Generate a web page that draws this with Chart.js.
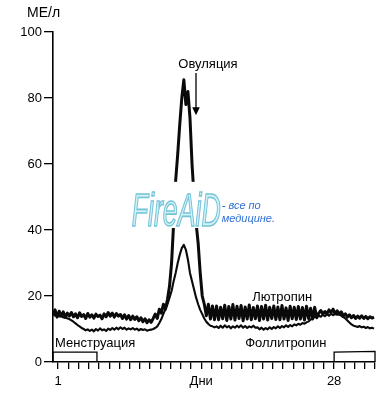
<!DOCTYPE html>
<html>
<head>
<meta charset="utf-8">
<script src="https://cdn.jsdelivr.net/npm/chart.js@4.4.0/dist/chart.umd.min.js"></script>
<style>
  html, body { margin: 0; padding: 0; background: #fff; }
</style>
</head>
<body>
<canvas id="hormoneChart" width="389" height="400"></canvas>
<script>
// дни цикла (шаг 0.2 дня)
const days = [
  0.5, 0.7, 0.9, 1.1, 1.3, 1.5, 1.7, 1.9, 2.1, 2.3,
  2.5, 2.7, 2.9, 3.1, 3.3, 3.5, 3.7, 3.9, 4.1, 4.3,
  4.5, 4.7, 4.9, 5.1, 5.3, 5.5, 5.7, 5.9, 6.1, 6.3,
  6.5, 6.7, 6.9, 7.1, 7.3, 7.5, 7.7, 7.9, 8.1, 8.3,
  8.5, 8.7, 8.9, 9.1, 9.3, 9.5, 9.7, 9.9, 10.1, 10.3,
  10.5, 10.7, 10.9, 11.1, 11.3, 11.5, 11.7, 11.9, 12.1, 12.3,
  12.5, 12.7, 12.9, 13.1, 13.3, 13.5, 13.7, 13.9, 14.1, 14.3,
  14.5, 14.7, 14.9, 15.1, 15.3, 15.5, 15.7, 15.9, 16.1, 16.3,
  16.5, 16.7, 16.9, 17.1, 17.3, 17.5, 17.7, 17.9, 18.1, 18.3,
  18.5, 18.7, 18.9, 19.1, 19.3, 19.5, 19.7, 19.9, 20.1, 20.3,
  20.5, 20.7, 20.9, 21.1, 21.3, 21.5, 21.7, 21.9, 22.1, 22.3,
  22.5, 22.7, 22.9, 23.1, 23.3, 23.5, 23.7, 23.9, 24.1, 24.3,
  24.5, 24.7, 24.9, 25.1, 25.3, 25.5, 25.7, 25.9, 26.1, 26.3,
  26.5, 26.7, 26.9, 27.1, 27.3, 27.5, 27.7, 27.9, 28.1, 28.3,
  28.5, 28.7, 28.9, 29.1, 29.3, 29.5, 29.7, 29.9, 30.1, 30.3,
  30.5, 30.7, 30.9, 31.1, 31.3, 31.5, 31.7, 31.9
];

// Лютропин, МЕ/л
const lhValues = [
  14.5, 15.8, 13.6, 15.4, 14.0, 15.2, 13.5, 14.8, 13.9, 15.0,
  13.7, 14.6, 13.4, 14.9, 13.8, 14.4, 13.2, 14.7, 13.6, 14.3,
  13.3, 14.5, 13.8, 14.2, 13.1, 14.6, 13.7, 15.0, 13.9, 14.8,
  13.6, 14.7, 13.9, 14.4, 13.2, 14.3, 13.0, 14.1, 12.8, 13.9,
  12.9, 13.7, 12.5, 13.4, 12.2, 13.1, 11.9, 12.8, 12.0, 13.2,
  14.5, 13.2, 16.0, 14.8, 17.5, 16.0, 19.0, 23.0, 30.0, 42.0,
  55.0, 63.0, 72.0, 80.0, 85.5, 78.0, 82.0, 74.0, 60.0, 50.0,
  42.0, 36.0, 27.0, 20.0, 17.5, 14.0, 17.5, 13.0, 17.0, 12.8,
  17.0, 12.8, 16.6, 13.1, 17.2, 12.6, 16.8, 13.0, 17.4, 12.7,
  16.9, 13.2, 17.1, 12.5, 16.7, 13.0, 17.3, 12.8, 16.5, 13.1,
  17.0, 12.6, 16.8, 13.0, 17.2, 12.7, 16.6, 13.2, 17.0, 12.9,
  16.7, 12.8, 17.1, 13.0, 16.4, 12.6, 16.9, 13.1, 16.6, 12.9,
  16.8, 13.0, 16.5, 12.7, 16.9, 13.2, 16.3, 13.0, 16.6, 13.4,
  14.8, 15.6, 14.5, 15.3, 14.6, 15.8, 15.0, 16.0, 14.6, 15.5,
  14.5, 15.2, 14.0, 14.6, 13.6, 14.3, 13.4, 14.1, 13.2, 13.9,
  13.3, 14.0, 13.2, 13.8, 13.1, 13.7, 13.3, 13.6
];

// Фоллитропин, МЕ/л
const fshValues = [
  14.6, 14.0, 14.3, 13.8, 13.9, 13.5, 13.6, 13.2, 13.0, 12.6,
  12.2, 11.7, 11.2, 10.8, 10.3, 10.0, 9.6, 9.9, 9.4, 9.8,
  9.3, 10.0, 9.5, 10.2, 9.6, 9.9, 9.4, 10.1, 9.7, 10.3,
  9.8, 10.4, 9.9, 10.5, 10.0, 10.4, 9.8, 10.2, 9.9, 10.3,
  9.8, 10.1, 9.6, 10.0, 9.7, 9.9, 9.5, 9.7, 9.8, 10.0,
  10.3, 10.8, 11.8, 13.0, 14.6, 16.0, 17.5, 19.5, 21.5, 24.5,
  27.0, 30.0, 32.5, 34.5, 35.5, 34.0, 31.0, 27.0, 24.5, 22.0,
  19.5, 17.5, 15.8, 14.5, 13.2, 12.2, 11.5, 11.0, 10.8, 10.5,
  10.8, 10.3, 11.0, 10.4, 11.1, 10.5, 10.9, 10.2, 10.8, 10.4,
  11.0, 10.5, 11.1, 10.4, 10.9, 10.3, 10.8, 10.5, 11.0, 10.4,
  10.5, 9.9, 10.4, 9.8, 10.3, 9.9, 10.5, 10.0, 10.6, 10.2,
  10.8, 10.3, 10.9, 10.5, 11.1, 10.6, 11.2, 10.8, 11.4, 11.1,
  11.6, 11.3, 11.8, 11.6, 12.0, 12.3, 12.9, 13.3, 13.6, 13.9,
  14.0, 13.7, 14.3, 13.9, 14.5, 14.0, 14.6, 14.2, 14.8, 14.3,
  14.5, 14.0, 13.6, 13.2, 12.6, 12.0, 11.4, 11.0, 10.8, 10.6,
  10.9, 10.5, 10.7, 10.3, 10.6, 10.2, 10.4, 10.1
];

// рамки менструаций (начало и конец цикла)
const mensBoxDays = [0.5, 0.5, 4.8, 4.8];
const mensBoxValues = [0, 3, 3, 0];
const nextBoxDays = [28, 28, 32, 32];
const nextBoxValues = [0, 3, 3.2, 0];

// оси
const dayTicks = [1, 2, 3, 4, 5, 6, 7, 8, 9, 10, 11, 12, 13, 14, 15, 16,
  17, 18, 19, 20, 21, 22, 23, 24, 25, 26, 27, 28, 29, 30, 31, 32];
const dayTickLabels = { 1: '1', 15: 'Дни', 28: '28' };
const valueTicks = [0, 20, 40, 60, 80, 100];

const FONT = '"Liberation Sans", Arial, sans-serif';

function toPoints(xs, ys) {
  return xs.map((x, i) => ({ x: x, y: ys[i] }));
}

const notesPlugin = {
  id: 'notes',
  afterDatasetsDraw(chart) {
    const ctx = chart.ctx;
    const x = chart.scales.x;
    const y = chart.scales.y;
    const area = chart.chartArea;
    ctx.save();
    ctx.fillStyle = '#000';
    ctx.textBaseline = 'alphabetic';
    ctx.textAlign = 'left';

    ctx.font = '14px ' + FONT;
    ctx.fillText('МЕ/л', area.left - 26, area.top - 15);

    ctx.font = '13px ' + FONT;
    ctx.fillText('Лютропин', x.getPixelForValue(20.0), y.getPixelForValue(18.5));
    ctx.fillText('Фоллитропин', x.getPixelForValue(19.3), y.getPixelForValue(4.5));
    ctx.fillText('Менструация', x.getPixelForValue(0.7), y.getPixelForValue(4.5));
    ctx.fillText('Овуляция', x.getPixelForValue(12.76), y.getPixelForValue(89.1));

    // стрелка овуляции
    const ax = x.getPixelForValue(14.49);
    const aTop = y.getPixelForValue(87.6);
    const aTip = y.getPixelForValue(74.8);
    ctx.strokeStyle = '#000';
    ctx.lineWidth = 1.3;
    ctx.beginPath();
    ctx.moveTo(ax, aTop);
    ctx.lineTo(ax, aTip - 6);
    ctx.stroke();
    ctx.beginPath();
    ctx.moveTo(ax - 3.8, aTip - 8);
    ctx.lineTo(ax + 3.8, aTip - 8);
    ctx.lineTo(ax, aTip);
    ctx.closePath();
    ctx.fill();

    // водяной знак поверх линий (белая подложка)
    const wLeft = x.getPixelForValue(7.9);
    const wTop = y.getPixelForValue(54.6);
    const wBottom = y.getPixelForValue(40.6);
    ctx.fillStyle = '#fff';
    ctx.fillRect(wLeft, wTop, x.getPixelForValue(24.0) - wLeft, wBottom - wTop);

    ctx.save();
    ctx.translate(x.getPixelForValue(8.2), y.getPixelForValue(41.2));
    ctx.scale(0.58, 1);
    ctx.font = 'italic 46px ' + FONT;
    ctx.fillStyle = 'rgba(205, 240, 248, 0.9)';
    ctx.strokeStyle = '#74c4d6';
    ctx.lineWidth = 1.6;
    ctx.fillText('FireAiD', 0, 0);
    ctx.strokeText('FireAiD', 0, 0);
    ctx.restore();

    ctx.font = 'italic 11px ' + FONT;
    ctx.fillStyle = '#2f6fd6';
    ctx.fillText('- все по', x.getPixelForValue(17.0), y.getPixelForValue(46.5));
    ctx.fillText('медицине.', x.getPixelForValue(17.0), y.getPixelForValue(42.5));
    ctx.restore();
  }
};

new Chart(document.getElementById('hormoneChart').getContext('2d'), {
  type: 'line',
  data: {
    labels: days,
    datasets: [
      {
        label: 'Лютропин',
        data: lhValues,
        borderColor: '#0a0a0a',
        borderWidth: 3,
        borderJoinStyle: 'round',
        pointRadius: 0,
        tension: 0
      },
      {
        label: 'Фоллитропин',
        data: fshValues,
        borderColor: '#0a0a0a',
        borderWidth: 2.1,
        borderJoinStyle: 'round',
        pointRadius: 0,
        tension: 0
      },
      {
        label: 'Менструация',
        data: toPoints(mensBoxDays, mensBoxValues),
        borderColor: '#000',
        borderWidth: 1.3,
        pointRadius: 0,
        tension: 0,
        clip: 6
      },
      {
        label: 'Менструация 2',
        data: toPoints(nextBoxDays, nextBoxValues),
        borderColor: '#000',
        borderWidth: 1.3,
        pointRadius: 0,
        tension: 0,
        clip: 6
      }
    ]
  },
  options: {
    responsive: false,
    animation: false,
    devicePixelRatio: 1,
    layout: { padding: { top: 32, right: 14, left: 0, bottom: 0 } },
    plugins: {
      legend: { display: false },
      tooltip: { enabled: false }
    },
    scales: {
      x: {
        type: 'linear',
        min: 0.5,
        max: 32,
        afterBuildTicks: (scale) => {
          scale.ticks = dayTicks.map(v => ({ value: v }));
        },
        afterFit: (scale) => { scale.height = 38; },
        ticks: {
          autoSkip: false,
          maxRotation: 0,
          padding: 5,
          color: '#000',
          font: { family: FONT, size: 13 },
          callback: (v) => dayTickLabels[v] || ''
        },
        grid: {
          drawOnChartArea: false,
          tickLength: 7,
          color: '#000',
          lineWidth: 1.3
        },
        border: { display: true, color: '#000', width: 1.6 }
      },
      y: {
        min: 0,
        max: 100,
        afterBuildTicks: (scale) => {
          scale.ticks = valueTicks.map(v => ({ value: v }));
        },
        afterFit: (scale) => { scale.width = 53; },
        ticks: {
          padding: 2,
          color: '#000',
          font: { family: FONT, size: 13 }
        },
        grid: {
          drawOnChartArea: false,
          tickLength: 9,
          color: '#000',
          lineWidth: 1.3
        },
        border: { display: true, color: '#000', width: 1.6 }
      }
    }
  },
  plugins: [notesPlugin]
});
</script>
</body>
</html>
